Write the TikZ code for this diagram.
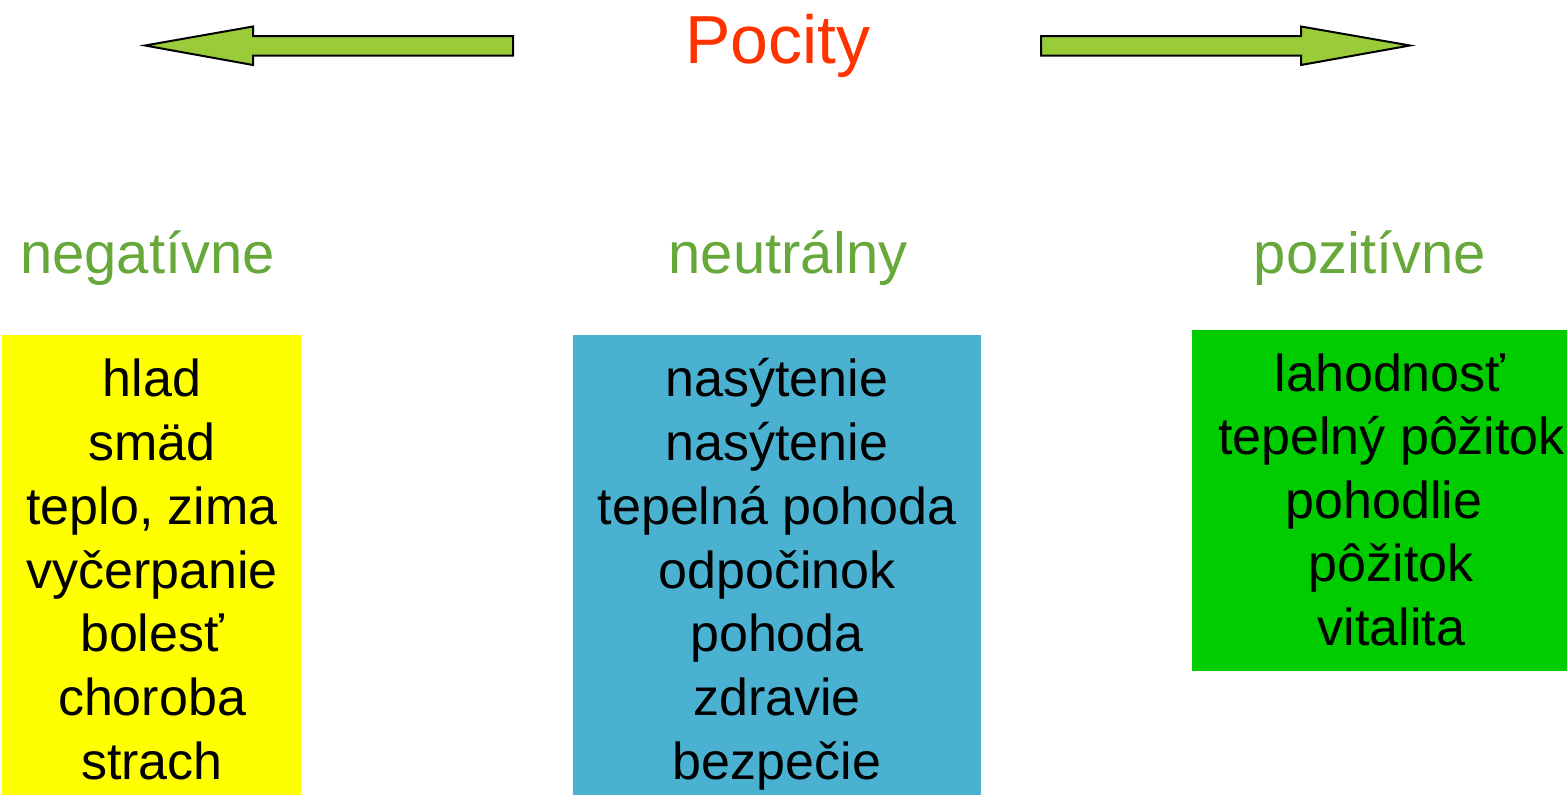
\documentclass[tikz,border=0pt]{standalone}
\usepackage{fontspec}
\setmainfont{Liberation Sans}
\definecolor{arrowgreen}{HTML}{9ACC3A}
\definecolor{labelgreen}{HTML}{66A83A}
\definecolor{titlered}{HTML}{FF3300}
\definecolor{boxyellow}{HTML}{FFFF00}
\definecolor{boxblue}{HTML}{4BB1D0}
\definecolor{boxgreen}{HTML}{00CC00}
\tikzset{
  bigarrow/.style={draw=black, line width=2pt, fill=arrowgreen, line join=miter},
  catlabel/.style={anchor=base, inner sep=0pt, text=labelgreen, font=\fontsize{58}{68}\selectfont},
  item/.style={anchor=base, inner sep=0pt, text=black, font=\fontsize{52}{64}\selectfont},
  colbox/.style={draw=none, inner sep=0pt}
}
\begin{document}
\begin{tikzpicture}[x=1pt,y=-1pt]
\useasboundingbox (0,0) rectangle (1567,795);
% arrows
\draw[bigarrow] (145,45.5) -- (253,26.5) -- (253,36) -- (513,36) -- (513,55.5) -- (253,55.5) -- (253,65) -- cycle;
\draw[bigarrow] (1410,45.5) -- (1301,26.5) -- (1301,36) -- (1041,36) -- (1041,55.5) -- (1301,55.5) -- (1301,65) -- cycle;
% title
\node[anchor=base, inner sep=0pt, text=titlered, font=\fontsize{68}{80}\selectfont] (title) at (778,63) {Pocity};
% category labels
\node[catlabel] (neg) at (147.5,273) {negatívne};
\node[catlabel] (neu) at (788,273) {neutrálny};
\node[catlabel] (poz) at (1370,273) {pozitívne};
% boxes
\fill[boxyellow] (2,335) rectangle (301,795);
\fill[boxblue] (573,335) rectangle (981,795);
\fill[boxgreen] (1192,330) rectangle (1567,671);
% negative items
\node[item] (n1) at (152,396.7) {hlad};
\node[item] (n2) at (152,460.5) {smäd};
\node[item] (n3) at (152,524.3) {teplo, zima};
\node[item] (n4) at (152,588.1) {vyčerpanie};
\node[item] (n5) at (152,651.9) {bolesť};
\node[item] (n6) at (152,715.7) {choroba};
\node[item] (n7) at (152,779.5) {strach};
% neutral items
\node[item] (u1) at (777,396.7) {nasýtenie};
\node[item] (u2) at (777,460.5) {nasýtenie};
\node[item] (u3) at (777,524.3) {tepelná pohoda};
\node[item] (u4) at (777,588.1) {odpočinok};
\node[item] (u5) at (777,651.9) {pohoda};
\node[item] (u6) at (777,715.7) {zdravie};
\node[item] (u7) at (777,779.5) {bezpečie};
% positive items
\node[item] (p1) at (1390,391) {lahodnosť};
\node[item] (p2) at (1391.5,454.5) {tepelný pôžitok};
\node[item] (p3) at (1384,518) {pohodlie};
\node[item] (p4) at (1391,581.5) {pôžitok};
\node[item] (p5) at (1391.5,645) {vitalita};
\end{tikzpicture}
\end{document}
